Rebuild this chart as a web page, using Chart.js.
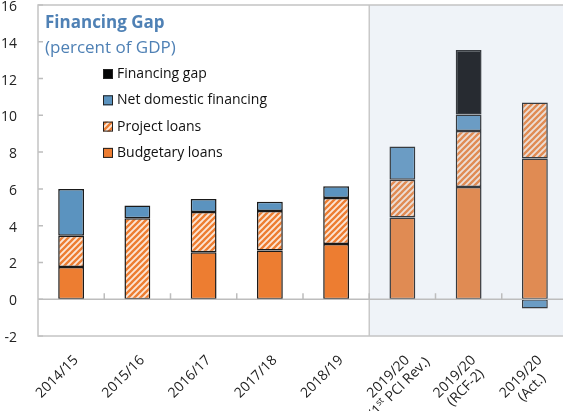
<!DOCTYPE html>
<html>
<head>
<meta charset="utf-8">
<script src="https://cdn.jsdelivr.net/npm/chart.js@4/dist/chart.umd.min.js"></script>
<style>
html,body{margin:0;padding:0;overflow:hidden;background:#fff;}
#wrap{width:572px;height:411px;position:relative;}
</style>
</head>
<body>
<div id="wrap"><canvas id="c" width="572" height="411"></canvas></div>
<script>
// ---- data ----
const categories = [
  ['2014/15'], ['2015/16'], ['2016/17'], ['2017/18'], ['2018/19'],
  ['2019/20', '(1{st} PCI Rev.)'], ['2019/20', '(RCF-2)'], ['2019/20', '(Act.)']
];
const budgetaryLoans = [1.75, null, 2.55, 2.65, 3.0, 4.45, 6.1, 7.65];
const projectLoans   = [1.7, 4.4, 2.2, 2.15, 2.5, 2.05, 3.05, 3.05];
const netDomestic    = [2.55, 0.7, 0.7, 0.5, 0.65, 1.8, 0.9, -0.5];
const financingGap   = [null, null, null, null, null, null, 3.5, null];
const yTicks = { min: -2, max: 16, step: 2 };
const titleLines = ['Financing Gap', '(percent of GDP)'];
const shadedFrom = 5; // first category index of shaded region

// ---- styles ----
const FONT = '"Open Sans", "Noto Sans", sans-serif';
const ORANGE = '#ED7D31', BLUE = '#5B93BF', BLACK = '#050607';

function makeHatch() {
  const c = document.createElement('canvas');
  c.width = 6; c.height = 6;
  const g = c.getContext('2d');
  g.fillStyle = '#FCE6D6'; g.fillRect(0, 0, 6, 6);
  g.strokeStyle = ORANGE; g.lineWidth = 2.3;
  g.beginPath();
  [0, 6, 12].forEach(k => { g.moveTo(k - 7, 7); g.lineTo(7, k - 7); });
  g.stroke();
  return g.createPattern(c, 'repeat');
}
const HATCH = makeHatch();

const legendItems = [
  { label: 'Financing gap', fill: BLACK },
  { label: 'Net domestic financing', fill: BLUE },
  { label: 'Project loans', fill: HATCH },
  { label: 'Budgetary loans', fill: ORANGE }
];

function drawRichLine(ctx, text, x, y, align) {
  const parts = [];
  const re = /\{([^}]*)\}/g; let last = 0, m;
  while ((m = re.exec(text))) {
    if (m.index > last) parts.push({ t: text.slice(last, m.index), sup: false });
    parts.push({ t: m[1], sup: true }); last = re.lastIndex;
  }
  if (last < text.length) parts.push({ t: text.slice(last), sup: false });
  const base = ctx.font, supFont = ctx.font.replace(/(\d+)px/, (a, n) => Math.round(n * 0.62) + 'px');
  let w = 0;
  parts.forEach(p => { ctx.font = p.sup ? supFont : base; p.w = ctx.measureText(p.t).width; w += p.w; });
  let sx = align === 'right' ? x - w : align === 'center' ? x - w / 2 : x;
  ctx.textAlign = 'left';
  parts.forEach(p => {
    ctx.font = p.sup ? supFont : base;
    ctx.fillText(p.t, sx, p.sup ? y - 4 : y);
    sx += p.w;
  });
  ctx.font = base;
  return w;
}

const decor = {
  id: 'decor',
  afterDatasetsDraw(chart) {
    const { ctx, chartArea: a, scales: { x, y } } = chart;
    const step = x.getPixelForValue(1) - x.getPixelForValue(0);
    const bx = (x.getPixelForValue(shadedFrom - 1) + x.getPixelForValue(shadedFrom)) / 2;
    ctx.save();
    ctx.fillStyle = 'rgba(175,195,222,0.2)';
    ctx.fillRect(bx, a.top, a.right - bx, a.bottom - a.top);
    ctx.strokeStyle = '#c9c9c9'; ctx.lineWidth = 1.5;
    ctx.beginPath(); ctx.moveTo(bx, a.top); ctx.lineTo(bx, a.bottom); ctx.stroke();
    const y0 = y.getPixelForValue(0);
    ctx.strokeStyle = '#bdbdbd'; ctx.lineWidth = 1.5;
    ctx.beginPath(); ctx.moveTo(a.left, y0); ctx.lineTo(a.right, y0); ctx.stroke();
    ctx.beginPath();
    for (let i = 0; i < categories.length; i++) {
      const px = x.getPixelForValue(i) + step / 2;
      ctx.moveTo(px, y0); ctx.lineTo(px, y0 - 6);
    }
    ctx.stroke();
    ctx.beginPath();
    for (let v = yTicks.min; v <= yTicks.max; v += yTicks.step) {
      const py = y.getPixelForValue(v);
      ctx.moveTo(a.left, py); ctx.lineTo(a.left + 5, py);
    }
    ctx.stroke();
    ctx.strokeStyle = '#c4c4c4'; ctx.lineWidth = 1.5;
    ctx.strokeRect(a.left, a.top, a.right - a.left, a.bottom - a.top);

    // title
    ctx.fillStyle = '#4F81B5';
    ctx.textBaseline = 'middle'; ctx.textAlign = 'left';
    ctx.font = 'bold 17px ' + FONT;
    ctx.fillText(titleLines[0], a.left + 7, 23);
    ctx.font = '17px ' + FONT;
    ctx.fillText(titleLines[1], a.left + 7, 48);

    // legend
    ctx.font = '14px ' + FONT;
    legendItems.forEach((it, i) => {
      const cy = 74 + i * 26.3;
      ctx.fillStyle = it.fill;
      ctx.fillRect(103, cy - 5, 10, 10);
      ctx.strokeStyle = '#222'; ctx.lineWidth = 1;
      ctx.strokeRect(103.5, cy - 4.5, 9, 9);
      ctx.fillStyle = '#111';
      ctx.fillText(it.label, 117, cy);
    });

    // x labels
    ctx.font = '14px ' + FONT;
    ctx.fillStyle = '#222';
    ctx.textBaseline = 'middle';
    categories.forEach((lines, i) => {
      const px = x.getPixelForValue(i) + 5;
      const py = a.bottom + 22;
      ctx.save();
      ctx.translate(px, py);
      ctx.rotate(-Math.PI / 4);
      const w1 = drawRichLine(ctx, lines[0], 0, 0, 'right');
      for (let k = 1; k < lines.length; k++) {
        drawRichLine(ctx, lines[k], -w1 / 2, k * 15.5, 'center');
      }
      ctx.restore();
    });
    ctx.restore();
  }
};

new Chart(document.getElementById('c'), {
  type: 'bar',
  data: {
    labels: categories.map(l => l.join(' ').replace(/[{}]/g, '')),
    datasets: [
      { label: 'Budgetary loans', data: budgetaryLoans, backgroundColor: ORANGE },
      { label: 'Project loans', data: projectLoans, backgroundColor: HATCH },
      { label: 'Net domestic financing', data: netDomestic, backgroundColor: BLUE },
      { label: 'Financing gap', data: financingGap, backgroundColor: BLACK }
    ].map(d => Object.assign(d, {
      borderColor: '#1a1a1a', borderWidth: 1.5, borderSkipped: false,
      barPercentage: 0.39, categoryPercentage: 1
    }))
  },
  options: {
    responsive: false,
    animation: false,
    layout: { padding: { top: 5, right: 4, left: 0, bottom: 0 } },
    plugins: { legend: { display: false }, tooltip: { enabled: false }, title: { display: false } },
    scales: {
      x: {
        stacked: true,
        grid: { display: false }, border: { display: false },
        ticks: { display: false },
        afterFit(s) { s.height = 75; s.paddingLeft = 0; s.paddingRight = 0; }
      },
      y: {
        stacked: true,
        min: yTicks.min, max: yTicks.max,
        grid: { display: false }, border: { display: false },
        ticks: { stepSize: yTicks.step, padding: 13, labelOffset: 2, color: '#222', font: { family: FONT, size: 14 } },
        afterFit(s) { s.width = 38; s.paddingTop = 0; s.paddingBottom = 0; }
      }
    }
  },
  plugins: [decor]
});
</script>
</body>
</html>
